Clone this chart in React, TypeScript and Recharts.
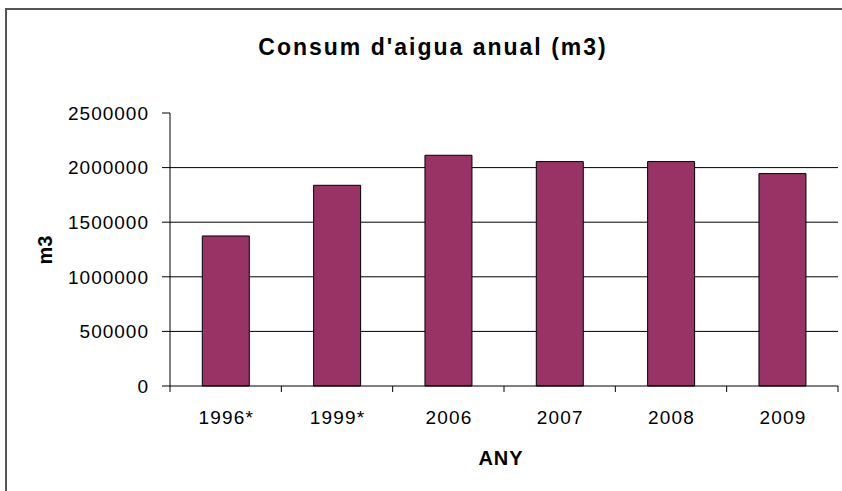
import { BarChart, Bar, XAxis, YAxis, CartesianGrid } from 'recharts';

const years = ['1996*', '1999*', '2006', '2007', '2008', '2009'];
const consum = [1374000, 1838000, 2113000, 2055000, 2055000, 1945000];
const yTicks = [0, 500000, 1000000, 1500000, 2000000, 2500000];

const W = 842;
const H = 491;
const PLOT_LEFT = 170;
const PLOT_RIGHT = 838;
const PLOT_TOP = 113;
const PLOT_BOTTOM = 386;
const BAND = (PLOT_RIGHT - PLOT_LEFT) / years.length;
const FONT = '"Liberation Sans", Arial, sans-serif';

const data = years.map((y, i) => ({ any: y, m3: consum[i] }));

// tick Excel-style: marca a la vora de cada categoria, text al centre
function YearTick(props: any) {
  const { x, y, payload, index } = props;
  const left = x - BAND / 2;
  return (
    <g>
      <line x1={left} y1={y} x2={left} y2={y + 6} stroke="#000" />
      {index === years.length - 1 && (
        <line x1={x + BAND / 2} y1={y} x2={x + BAND / 2} y2={y + 6} stroke="#000" />
      )}
      <text
        x={x + 0.6}
        y={y + 31}
        textAnchor="middle"
        dominantBaseline="central"
        fontSize={19}
        letterSpacing={1.2}
        fontFamily={FONT}
        fill="#000"
      >
        {payload.value}
      </text>
    </g>
  );
}

export default function App() {
  return (
    <div
      style={{
        position: 'absolute',
        left: 0,
        top: 0,
        width: W,
        height: H,
        overflow: 'hidden',
        background: '#fff',
        fontFamily: FONT,
      }}
    >
      <div
        style={{
          position: 'absolute',
          left: 5,
          top: 8,
          width: 900,
          height: 600,
          border: '2px solid #555',
        }}
      />
      <div
        style={{
          position: 'absolute',
          left: 0,
          width: 866,
          top: 32,
          textAlign: 'center',
          fontSize: 23,
          letterSpacing: 2,
          fontWeight: 'bold',
          lineHeight: '30px',
        }}
      >
        Consum d'aigua anual (m3)
      </div>
      <div
        style={{
          position: 'absolute',
          left: 45,
          top: 250,
          transform: 'translate(-50%, -50%) rotate(-90deg)',
          fontSize: 20,
          fontWeight: 'bold',
          lineHeight: '22px',
        }}
      >
        m3
      </div>
      <div
        style={{
          position: 'absolute',
          left: 501,
          top: 458,
          transform: 'translate(-50%, -50%)',
          fontSize: 20,
          letterSpacing: 1,
          fontWeight: 'bold',
          lineHeight: '22px',
        }}
      >
        ANY
      </div>
      <div style={{ position: 'absolute', left: 0, top: 0 }}>
        <BarChart
          width={W}
          height={H}
          data={data}
          margin={{ top: PLOT_TOP, right: W - PLOT_RIGHT, bottom: 0, left: 0 }}
          barCategoryGap="29%"
        >
          <CartesianGrid
            vertical={false}
            stroke="#000"
            horizontalValues={[500000, 1000000, 1500000, 2000000]}
          />
          <XAxis
            dataKey="any"
            height={H - PLOT_BOTTOM}
            tickLine={false}
            tickSize={0}
            tickMargin={0}
            axisLine={{ stroke: '#000' }}
            tick={<YearTick />}
            interval={0}
          />
          <XAxis
            xAxisId="top"
            dataKey="any"
            orientation="top"
            height={0}
            tick={false}
            tickLine={false}
            axisLine={{ stroke: '#888' }}
          />
          <YAxis
            width={PLOT_LEFT}
            domain={[0, 2500000]}
            ticks={yTicks}
            interval={0}
            tickSize={8}
            tickMargin={13}
            tickLine={{ stroke: '#000' }}
            axisLine={{ stroke: '#000' }}
            tick={{ fill: '#000', fontSize: 19, fontFamily: FONT, letterSpacing: 1 }}
            tickFormatter={(v: number) => String(v)}
          />
          <YAxis
            yAxisId="right"
            orientation="right"
            width={0}
            domain={[0, 2500000]}
            tick={false}
            tickLine={false}
            axisLine={{ stroke: '#888' }}
          />
          <Bar
            dataKey="m3"
            fill="#993366"
            stroke="#000"
            strokeWidth={1}
            isAnimationActive={false}
          />
        </BarChart>
      </div>
    </div>
  );
}
